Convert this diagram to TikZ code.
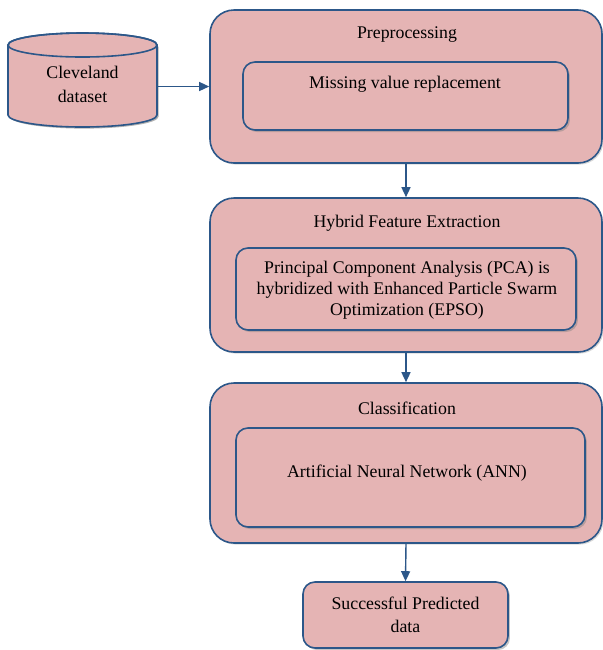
\documentclass[tikz,border=0pt]{standalone}
\usepackage{fontspec}
\setmainfont{Liberation Serif}
\usetikzlibrary{arrows.meta,shadows}
\definecolor{boxfill}{RGB}{229,180,180}
\definecolor{boxline}{RGB}{44,87,137}
\begin{document}
\begin{tikzpicture}[x=0.5pt, y=-0.5pt,
    font=\fontsize{8.9}{10.4}\selectfont,
    outerbox/.style={draw=boxline, fill=boxfill, line width=0.8pt, rounded corners=12pt,
      minimum width=196pt, drop shadow={shadow xshift=0.8pt, shadow yshift=-0.8pt, opacity=0.3}},
    innerbox/.style={draw=boxline, fill=boxfill, line width=0.8pt, rounded corners=6pt,
      drop shadow={shadow xshift=1pt, shadow yshift=-1pt, opacity=0.45}},
    flow/.style={draw=boxline, line width=0.7pt, -{Triangle[length=5pt, width=4.5pt]}}]
    \useasboundingbox (0, 0) rectangle (603, 650);
    % input data (cylinder)
    \fill[black, opacity=0.3] (9.6, 46.6) -- (9.6, 116.6) arc[start angle=180, end angle=360, x radius=37.25pt, y radius=6pt] -- (158.6, 46.6) -- cycle;
    \filldraw[draw=boxline, fill=boxfill, line width=0.8pt] (8, 45) -- (8, 115)
      arc[start angle=180, end angle=360, x radius=37.25pt, y radius=6pt] -- (157, 45)
      arc[start angle=0, end angle=180, x radius=37.25pt, y radius=6pt] -- cycle;
    \draw[boxline, line width=0.8pt] (82.5, 45) ellipse[x radius=37.25pt, y radius=6pt];
    \node[minimum width=74.5pt, minimum height=47pt, align=center] (data) at (82.5, 84.5) {Cleveland\\[2pt]dataset};
    % preprocessing
    \node[outerbox, minimum height=76.5pt] (pre) at (406, 86.5) {};
    \node (pretitle) at (407, 35) {Preprocessing};
    \node[innerbox, minimum width=162.5pt, minimum height=34pt] (miss) at (405.5, 96) {};
    \node (misstext) at (405, 84) {Missing value replacement};
    % feature extraction
    \node[outerbox, minimum height=77pt] (hfe) at (406, 275) {};
    \node (hfetitle) at (407, 223) {Hybrid Feature Extraction};
    \node[innerbox, minimum width=170pt, minimum height=41pt] (pca) at (406, 289) {};
    \node[align=center] (pcatext) at (407, 290) {Principal Component Analysis (PCA) is\\hybridized with Enhanced Particle Swarm\\Optimization (EPSO)};
    % classification
    \node[outerbox, minimum height=80pt] (cls) at (406, 463) {};
    \node (clstitle) at (407, 408) {Classification};
    \node[innerbox, minimum width=174.5pt, minimum height=49.5pt] (ann) at (410.5, 477.5) {};
    \node (anntext) at (407, 473) {Artificial Neural Network (ANN)};
    % output
    \node[innerbox, minimum width=102.5pt, minimum height=33pt, align=center] (out) at (405.5, 615) {Successful Predicted\\[1pt]data};
    % connectors
    \draw[flow] (data.east |- pre.west) -- (pre.west);
    \draw[flow] (pre.south) -- (hfe.north);
    \draw[flow] (hfe.south) -- (cls.north);
    \draw[flow] (cls.south) -- (out.north);
\end{tikzpicture}
\end{document}
